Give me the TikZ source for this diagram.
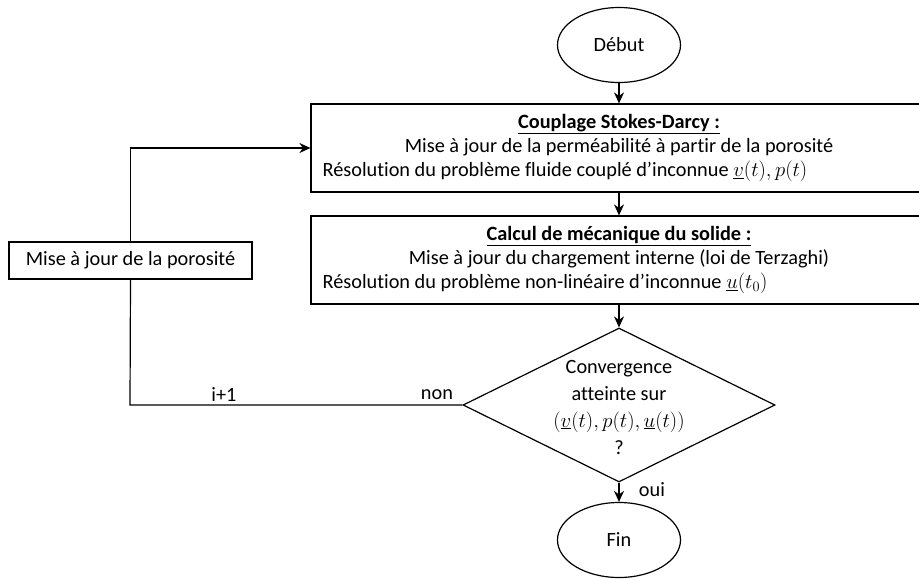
\documentclass[tikz,border=0pt]{standalone}
\usepackage{fontspec}
\setmainfont{Carlito}[Ligatures=NoCommon]
\usetikzlibrary{arrows.meta,shapes.geometric}
\begin{document}
\begin{tikzpicture}[x=1pt,y=-1pt,
  font=\fontsize{20.3}{24}\selectfont,
  line width=1.2pt,
  arr/.style={-{Stealth[length=11pt,width=10pt,inset=3.5pt]}},
  term/.style={draw, ellipse, minimum width=123pt, minimum height=75pt, inner sep=0pt},
  procbox/.style={draw, rectangle, align=center, inner sep=0pt},
  widebox/.style={draw, rectangle, minimum width=616pt, minimum height=88pt, inner sep=0pt},
  lbl/.style={inner sep=0pt},
  line/.style={inner sep=0pt, text height=14pt, text depth=5pt}]
\useasboundingbox (0,0) rectangle (919,579);
\clip (0,0) rectangle (919,579);
\node[term] (debut) at (619,45) {Début};
\node[widebox] (box1) at (619,148) {};
\node[line] (b1a) at (619,124) {\underline{\textbf{Couplage Stokes-Darcy :}}};
\node[line] (b1b) at (619,148) {Mise à jour de la perméabilité à partir de la porosité};
\node[line, anchor=west] (b1c) at (322,172) {Résolution du problème fluide couplé d’inconnue $\underline{v}(t), p(t)$};
\node[widebox] (box2) at (619,260) {};
\node[line] (b2a) at (619,236) {\underline{\textbf{Calcul de mécanique du solide :}}};
\node[line] (b2b) at (619,260) {Mise à jour du chargement interne (loi de Terzaghi)};
\node[line, anchor=west] (b2c) at (322,284) {Résolution du problème non-linéaire d’inconnue $\underline{u}(t_0)$};
\node[draw, diamond, minimum width=312pt, minimum height=154pt, inner sep=0pt] (conv) at (619,405) {};
\node[lbl, align=center, font=\fontsize{20.3}{27}\selectfont] (convtext) at (619,407)
  {Convergence\\ atteinte sur\\ $\Bigl(\underline{v}(t), p(t), \underline{u}(t)\Bigr)$\\ ?};
\node[term] (fin) at (619,540) {Fin};
\node[procbox, minimum width=243pt, minimum height=37pt] (poro) at (130.5,260.5) {Mise à jour de la porosité};
\coordinate (corner) at (130,405);
\node[lbl] (non) at (437,395) {non};
\node[lbl] (iplus) at (224,395) {i+1};
\node[lbl] (oui) at (652,490) {oui};
\draw[arr] (debut) -- (box1);
\draw[arr] (box1) -- (box2);
\draw[arr] (box2) -- (conv);
\draw[arr] (conv) -- (fin);
\draw (conv.west) -- (corner) -- (poro.south);
\draw[arr] (poro.north) |- (box1.west);
\end{tikzpicture}
\end{document}
